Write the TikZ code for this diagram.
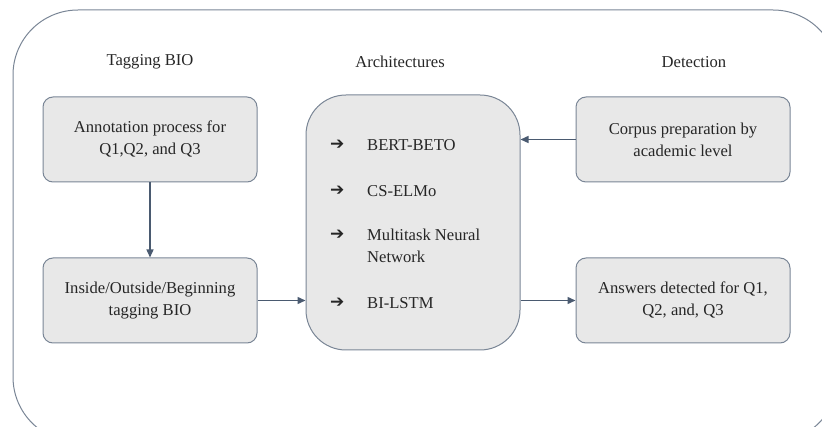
\documentclass[tikz,border=0pt]{standalone}
\usepackage{fontspec}
\setmainfont{Liberation Serif}
\newfontfamily\symfont{DejaVu Sans}
\usetikzlibrary{arrows.meta}
\definecolor{boxfill}{HTML}{E8E8E8}
\definecolor{boxline}{HTML}{7A8696}
\definecolor{flowline}{HTML}{4A5A70}
\tikzset{
  box/.style={draw=boxline, fill=boxfill, line width=1pt, rounded corners=10pt,
    minimum width=214pt, minimum height=85pt, align=center, inner sep=0pt},
  title/.style={inner sep=0pt},
  item/.style={anchor=west, inner sep=0pt, align=left},
  bullet/.style={item, font=\symfont\bfseries\fontsize{17}{17}\selectfont},
  flow/.style={draw=flowline, line width=1.4pt, -{Triangle[length=8pt,width=7pt]}}
}
\begin{document}
\begin{tikzpicture}[x=1pt, y=-1pt, font=\fontsize{16.6}{22}\selectfont, text=black!85]
\useasboundingbox (0,0) rectangle (822,427);
\clip (0,0) rectangle (822,427);
% frame
\draw[boxline, line width=1pt, rounded corners=65pt] (13,10) rectangle (838,442);
% titles
\node[title] (t1) at (150,62) {Tagging BIO};
\node[title] (t2) at (400,62) {Architectures};
\node[title] (t3) at (694,62) {Detection};
% boxes
\node[box] (ann) at (150,139.5) {Annotation process for\\Q1,Q2, and Q3};
\node[box] (ins) at (150,300.5) {Inside/Outside/Beginning\\tagging BIO};
\node[box] (cor) at (683,139.5) {Corpus preparation by\\academic level};
\node[box] (ansd) at (683,300.5) {Answers detected for Q1,\\Q2, and, Q3};
\node[box, rounded corners=40pt, minimum height=255pt] (arch) at (413,222.5) {};
% list
\node[bullet] (a1) at (330,145) {➔};
\node[bullet] (a2) at (330,191) {➔};
\node[bullet] (a3) at (330,235) {➔};
\node[bullet] (a4) at (330,303) {➔};
\node[item] (m1) at (367,145) {BERT-BETO};
\node[item] (m2) at (367,191) {CS-ELMo};
\node[item] (m3) at (367,246) {Multitask Neural\\Network};
\node[item] (m4) at (367,303) {BI-LSTM};
% connectors
\draw[flow] (ann) -- (ins);
\draw[flow] (ins.east) -- (ins.east -| arch.west);
\draw[flow] (cor.west) -- (cor.west -| arch.east);
\draw[flow] (arch.east |- ansd.west) -- (ansd.west);
\end{tikzpicture}
\end{document}
